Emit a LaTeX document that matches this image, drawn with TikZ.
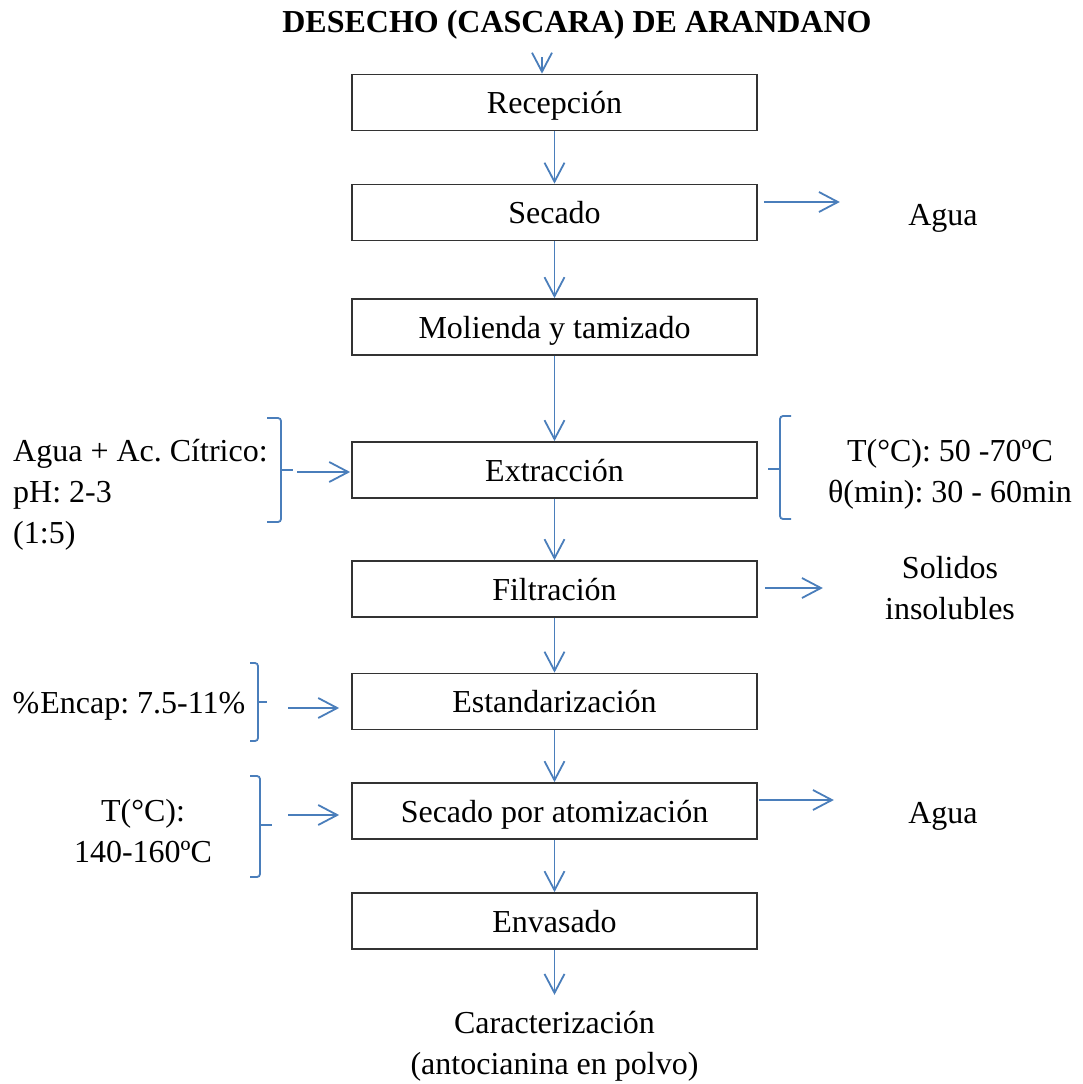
\documentclass[tikz,border=0pt]{standalone}
\usepackage{fontspec}
\setmainfont{Liberation Serif}
\usetikzlibrary{arrows.meta}
\definecolor{flowblue}{HTML}{4A7EBB}
\definecolor{boxline}{HTML}{333333}
\newcommand\bodyfont{\fontsize{32}{41}\selectfont\frenchspacing}
\begin{document}
\begin{tikzpicture}[x=1pt,y=-1pt,
  stepbox/.style={draw=boxline,line width=1.7pt,minimum width=405pt,minimum height=56pt,inner sep=0pt,font=\bodyfont,text height=22pt,text depth=0pt},
  arr/.style={draw=flowblue,line width=1.8pt,-{Straight Barb[length=19pt,width=20pt,line width=1.8pt]}},
  brace/.style={draw=flowblue,line width=1.8pt,rounded corners=3pt},
  tick/.style={draw=flowblue,line width=1.8pt},
  txt/.style={font=\bodyfont,inner sep=0pt,anchor=base,align=center}]
\useasboundingbox (0,0) rectangle (1082,1084);
% title
\node[font=\bodyfont\bfseries,inner sep=0pt,anchor=base] (title) at (577,32) {DESECHO (CASCARA) DE ARANDANO};
% process boxes
\node[stepbox] (rec) at (554.5,102.5) {Recepción};
\node[stepbox] (sec) at (554.5,212.5) {Secado};
\node[stepbox] (mol) at (554.5,327) {Molienda y tamizado};
\node[stepbox] (ext) at (554.5,470) {Extracción};
\node[stepbox] (fil) at (554.5,589) {Filtración};
\node[stepbox] (est) at (554.5,701.5) {Estandarización};
\node[stepbox] (ato) at (554.5,811) {Secado por atomización};
\node[stepbox] (env) at (554.5,921) {Envasado};
% side texts (base = baseline of the last line)
\node[txt] (agua1) at (943,225) {Agua};
\node[txt,anchor=base west,align=left] (cond1) at (13,543) {Agua + Ac. Cítrico:\\pH: 2-3\\(1:5)};
\node[txt] (cond2) at (950,502) {T(°C): 50 -70ºC\\θ(min): 30 - 60min};
\node[txt] (sol) at (950,619) {Solidos\\insolubles};
\node[txt] (enc) at (129,713) {\%\kern1pt Encap: 7.5-11\%};
\node[txt] (temp) at (143,862) {T(°C):\\140-160ºC};
\node[txt] (agua2) at (943,823) {Agua};
\node[txt] (car) at (554.5,1074) {Caracterización\\(antocianina en polvo)};
% main flow
\coordinate (in) at (542,57);
\draw[arr] (in) -- (in |- rec.north);
\draw[arr] (rec.south) -- (sec.north);
\draw[arr] (sec.south) -- (mol.north);
\draw[arr] (mol.south) -- (ext.north);
\draw[arr] (ext.south) -- (fil.north);
\draw[arr] (fil.south) -- (est.north);
\draw[arr] (est.south) -- (ato.north);
\draw[arr] (ato.south) -- (env.north);
\draw[arr] (env.south) -- ++(0,45) coordinate (outend);
% outputs
\draw[arr] ([shift={(6,-10.5)}]sec.east) -- ++(76,0);
\draw[arr] ([shift={(7,-1)}]fil.east) -- ++(58,0);
\draw[arr] ([shift={(1,-11)}]ato.east) -- ++(75,0);
% inputs
\draw[arr] ([shift={(-54,2)}]ext.west) -- ([shift={(-1,2)}]ext.west);
\draw[arr] ([shift={(-63,6.5)}]est.west) -- ([shift={(-12,6.5)}]est.west);
\draw[arr] ([shift={(-63,4)}]ato.west) -- ([shift={(-12,4)}]ato.west);
% braces
\draw[brace] (267,418) -- (281,418) -- (281,522) -- (267,522);
\draw[tick] (281,470) -- (293,470);
\draw[brace] (791,416) -- (780,416) -- (780,519) -- (791,519);
\draw[tick] (780,469) -- (768,469);
\draw[brace] (250,663) -- (258,663) -- (258,741) -- (250,741);
\draw[tick] (258,702) -- (267,702);
\draw[brace] (250,776) -- (260,776) -- (260,877) -- (250,877);
\draw[tick] (260,825) -- (272,825);
\end{tikzpicture}
\end{document}
